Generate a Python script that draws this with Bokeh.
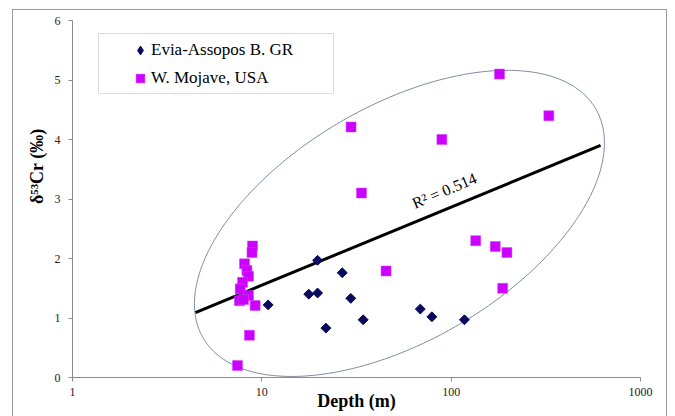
import numpy as np
from bokeh.plotting import figure
from bokeh.models import (FixedTicker, Legend, LegendItem, BoxAnnotation, Label, Title,
                          ColumnDataSource, PrintfTickFormatter)
from bokeh.embed import file_html
from bokeh.resources import INLINE

# ---------------- data ----------------
evia_depth = [10.8, 17.7, 19.7, 19.7, 21.8, 26.6, 29.5, 34.3, 68.7, 79.1, 117.5]
evia_d53 = [1.22, 1.40, 1.42, 1.97, 0.83, 1.76, 1.33, 0.97, 1.15, 1.02, 0.97]

mojave_depth = [180, 328, 29.6, 89.3, 33.6, 134.8, 171, 197, 45.3, 187,
                8.93, 8.87, 8.10, 8.34, 8.5, 7.91, 7.69, 8.5, 7.62, 8.0, 9.22, 8.6, 7.44]
mojave_d53 = [5.10, 4.40, 4.21, 4.00, 3.10, 2.30, 2.20, 2.10, 1.79, 1.50,
              2.21, 2.10, 1.91, 1.80, 1.70, 1.60, 1.49, 1.38, 1.29, 1.31, 1.21, 0.71, 0.20]

trend_depth = [4.46, 615]
trend_d53 = [1.09, 3.90]
r2_text = "R\u00b2 = 0.514"
r2_pos = (92, 3.14)

x_ticks = [1, 10, 100, 1000]
y_ticks = [0, 1, 2, 3, 4, 5, 6]

series_names = ["Evia-Assopos B. GR", "W. Mojave, USA"]
y_title = "\u03b4\u2075\u00b3Cr (\u2030)"
x_title = "Depth (m)"

# ellipse (centre in data units, semi-axes in px, angle in degrees)
ell_center = (53.3, 2.59)
ell_a, ell_b, ell_angle_deg = 227.3, 117.4, 30.3

# ---------------- layout ----------------
W, H = 675, 416
ML, MR, MT, MB = 72, 35, 20, 39
FW, FH = W - ML - MR, H - MT - MB
SERIF = "Liberation Serif"
NAVY = "#0a0a5c"
MAGENTA = "#cc00ff"
GREY = "#8a8a8a"
BORDER = "#9a9a9a"

p = figure(width=W, height=H, x_axis_type="log", x_range=(1, 1000), y_range=(0, 6),
           output_backend="svg", toolbar_location=None,
           min_border_left=ML, min_border_right=MR, min_border_top=MT, min_border_bottom=MB)
p.outline_line_color = None
p.grid.visible = False
p.background_fill_color = "white"
p.border_fill_color = None
g = f"linear-gradient({BORDER},{BORDER})"
p.styles = {
    "background-color": "white",
    "background-image": f"{g}, {g}, {g}",
    "background-size": "655px 1px, 1px 430px, 1px 430px",
    "background-position": "12px 9px, 12px 9px, 666px 9px",
    "background-repeat": "no-repeat",
}

# ellipse outline
ppd = FW / 3.0
ppu = FH / 6.0
t = np.linspace(0, 2 * np.pi, 361)
th = np.deg2rad(ell_angle_deg)
u = ell_a * np.cos(t) * np.cos(th) - ell_b * np.sin(t) * np.sin(th)
v = ell_a * np.cos(t) * np.sin(th) + ell_b * np.sin(t) * np.cos(th)
ex = 10 ** (np.log10(ell_center[0]) + u / ppd)
ey = ell_center[1] + v / ppu
p.line(ex, ey, line_color="#7d8aa0", line_width=1)

# trend line
p.line(trend_depth, trend_d53, line_color="black", line_width=3)

# points
src_e = ColumnDataSource(dict(x=evia_depth, y=evia_d53))
src_m = ColumnDataSource(dict(x=mojave_depth, y=mojave_d53))
r_m = p.scatter("x", "y", source=src_m, marker="square", size=10,
                fill_color=MAGENTA, line_color="#d040ff", line_width=0.5)
r_e = p.scatter("x", "y", source=src_e, marker="square", size=7, angle=np.pi / 4,
                fill_color=NAVY, line_color=NAVY)
# legend swatch for the diamond series (legend glyphs are drawn unrotated);
# its single point lies outside the visible ranges
r_e_key = p.scatter(x=[0.1], y=[-1.0], marker="diamond",
                    fill_color=NAVY, line_color=NAVY)

# R^2 label
p.add_layout(Label(x=r2_pos[0], y=r2_pos[1], text=r2_text, angle=np.deg2rad(23),
                   text_align="center", text_baseline="middle",
                   text_font=SERIF, text_font_size="16px", text_color="black"))

# axes
p.xaxis.ticker = FixedTicker(ticks=x_ticks)
p.xaxis.formatter = PrintfTickFormatter(format="%d")
p.yaxis.ticker = FixedTicker(ticks=y_ticks)
for ax in (p.xaxis[0], p.yaxis[0]):
    ax.axis_line_color = GREY
    ax.major_tick_line_color = GREY
    ax.minor_tick_line_color = None
    ax.major_tick_out = 4
    ax.major_tick_in = 0
    ax.major_label_text_font = SERIF
    ax.major_label_text_font_size = "12px"
    ax.major_label_text_color = "#222222"
p.yaxis.major_label_standoff = 8
p.xaxis.major_label_standoff = 6
p.xaxis.axis_label = x_title
p.xaxis.axis_label_text_font = SERIF
p.xaxis.axis_label_text_font_size = "18px"
p.xaxis.axis_label_text_font_style = "bold"
p.xaxis.axis_label_text_color = "black"
p.xaxis.axis_label_standoff = -8

# y title (placed above centre, like the reference)
p.add_layout(Title(text=y_title, align="right", offset=108, standoff=8,
                   vertical_align="middle",
                   text_font=SERIF, text_font_size="18px", text_font_style="bold",
                   text_color="black"), "left")

# legend
legend = Legend(items=[LegendItem(label=series_names[0], renderers=[r_e_key]),
                       LegendItem(label=series_names[1], renderers=[r_m])],
                location=(57, 288), orientation="vertical",
                glyph_width=22, glyph_height=22, label_height=22, spacing=6,
                padding=0, margin=0, label_standoff=0,
                label_text_font=SERIF, label_text_font_size="17px",
                label_text_color="black", border_line_color=None,
                background_fill_alpha=0)
p.add_layout(legend, "center")

# legend frame (screen units relative to the plot frame)
p.add_layout(BoxAnnotation(left=98 - ML, right=333 - ML, top=FH + MT - 33, bottom=FH + MT - 93,
                           left_units="screen", right_units="screen",
                           top_units="screen", bottom_units="screen",
                           fill_color=None, line_color=GREY, line_width=1))

open("out.html", "w").write(file_html(p, INLINE))
